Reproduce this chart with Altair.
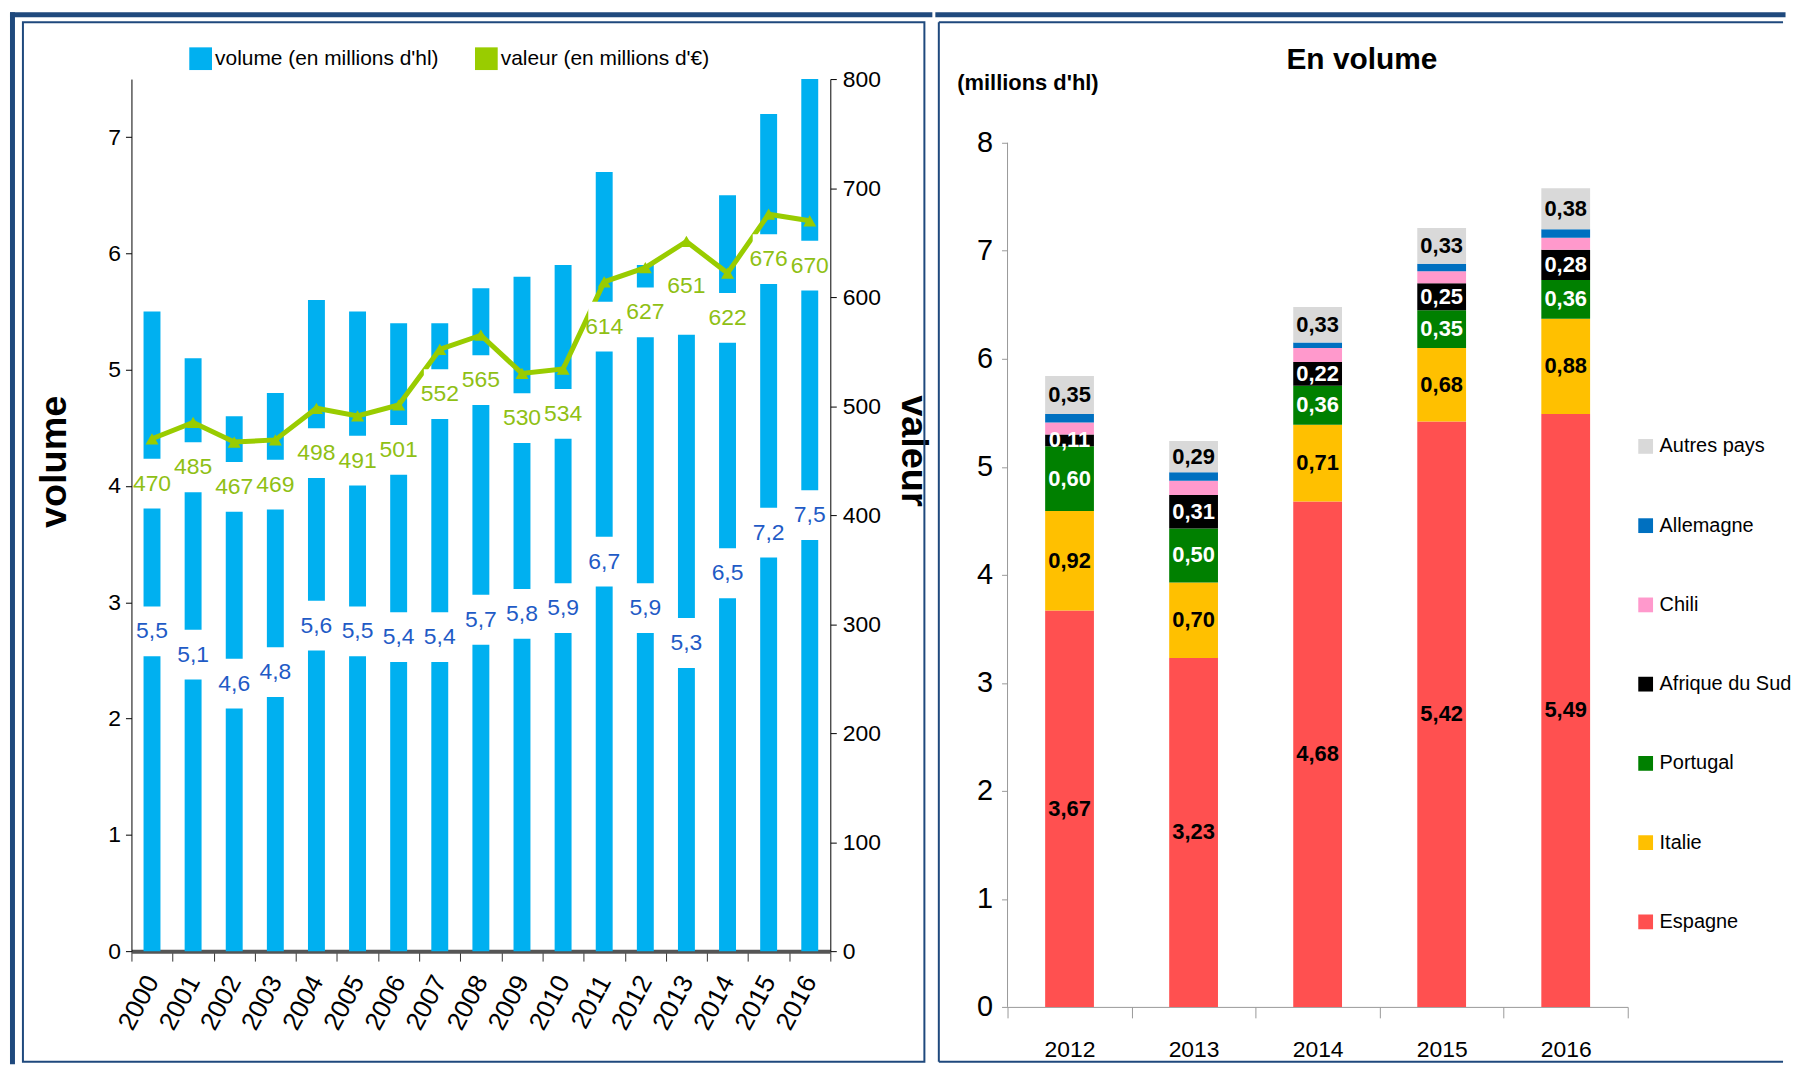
import altair as alt
import pandas as pd

# ---------------- data ----------------
annees = ["2000", "2001", "2002", "2003", "2004", "2005", "2006", "2007", "2008",
          "2009", "2010", "2011", "2012", "2013", "2014", "2015", "2016"]
volume = [5.5, 5.1, 4.6, 4.8, 5.6, 5.5, 5.4, 5.4, 5.7, 5.8, 5.9, 6.7, 5.9, 5.3, 6.5, 7.2, 7.5]
valeur = [470, 485, 467, 469, 498, 491, 501, 552, 565, 530, 534, 614, 627, 651, 622, 676, 670]

annees_pays = ["2012", "2013", "2014", "2015", "2016"]
pays = ["Espagne", "Italie", "Portugal", "Afrique du Sud", "Chili", "Allemagne", "Autres pays"]
espagne = [3.67, 3.23, 4.68, 5.42, 5.49]
italie = [0.92, 0.70, 0.71, 0.68, 0.88]
portugal = [0.60, 0.50, 0.36, 0.35, 0.36]
afrique_du_sud = [0.11, 0.31, 0.22, 0.25, 0.28]
chili = [0.11, 0.13, 0.13, 0.11, 0.11]
allemagne = [0.08, 0.08, 0.05, 0.07, 0.08]
autres_pays = [0.35, 0.29, 0.33, 0.33, 0.38]
pays_sans_etiquette = ["Chili", "Allemagne"]

legende_ordre = ["Autres pays", "Allemagne", "Chili", "Afrique du Sud", "Portugal", "Italie", "Espagne"]
legende_couleurs = ["#D9D9D9", "#0070C0", "#FF99CC", "#000000", "#008000", "#FFC000", "#FF5050"]

axe_droite = pd.DataFrame({"bas": [0], "haut": [8]})

NAME_VOL = "volume (en millions d'hl)"
NAME_VAL = "valeur (en millions d'€)"

# ---------------- style ----------------
FONT = "Liberation Sans"
NAVY = "#1F497D"
BLUE = "#00B0F0"
GREEN = "#99CC00"
GREEN_TXT = "#8FC014"
BLUE_TXT = "#1F5BC6"

TOP = 75                    # common page y of both plot tops
LW, LH = 702, 876           # left plot area
LOX = 130
R_ZERO_Y, R_EIGHT_Y = 1007, 139
RW = 623
RH = R_ZERO_Y - TOP
ROX = 1007
R_DOMAIN_TOP = 8 * RH / (R_ZERO_Y - R_EIGHT_Y)


def lx(p): return p - LOX
def ly(p): return p - TOP
def rx(p): return p - ROX
def ry(p): return p - TOP


one = pd.DataFrame({"k": [0]})


def rule_h(x1, x2, y, w, cap="butt"):
    return alt.Chart(one).mark_rule(color=NAVY, strokeWidth=w, strokeCap=cap).encode(
        x=alt.value(x1), x2=alt.value(x2), y=alt.value(y))


def rule_v(x, y1, y2, w, cap="butt"):
    return alt.Chart(one).mark_rule(color=NAVY, strokeWidth=w, strokeCap=cap).encode(
        x=alt.value(x), y=alt.value(y1), y2=alt.value(y2))


# ---------------- left chart ----------------
df_left = pd.DataFrame({"annee": annees, "volume": volume, "valeur": valeur})

HALF_BOX_PX = 25
VAL_LABEL_PX = 45
vb = HALF_BOX_PX * 7.5 / LH
vb2 = HALF_BOX_PX * 800 / LH
voff = VAL_LABEL_PX * 800 / LH

xL = alt.X("annee:N", sort=annees, scale=alt.Scale(paddingInner=0, paddingOuter=0),
           axis=alt.Axis(title=None, labelAngle=-62, labelFont=FONT, labelFontSize=26,
                         labelColor="#000", tickBand="extent", tickSize=10, tickColor="#333",
                         domainColor="#555", domainWidth=4, labelPadding=16, grid=False))

scaleV = alt.Scale(domain=[0, 7.5], nice=False, zero=True)
axisV = alt.Axis(orient="left", values=list(range(0, 8)), title="volume", titleAngle=-90,
                 titleX=lx(53), titleY=ly(459), titleFont=FONT, titleFontSize=38,
                 titleFontWeight="bold", titleAlign="center", titleBaseline="middle",
                 titleColor="#000", labelFont=FONT, labelFontSize=23, labelColor="#000",
                 tickSize=6, tickColor="#000", domainColor="#000", labelPadding=5, grid=False)

scaleVal = alt.Scale(domain=[0, 800], nice=False, zero=True)
axisVal = alt.Axis(orient="right", values=list(range(0, 801, 100)), title="valeur",
                   titleAngle=90, titleX=915 - (LOX + LW), titleY=ly(448), titleFont=FONT,
                   titleFontSize=38, titleFontWeight="bold", titleAlign="center",
                   titleBaseline="middle", titleColor="#000", labelFont=FONT,
                   labelFontSize=23, labelColor="#000", tickSize=6, tickColor="#000",
                   domainColor="#000", labelPadding=6, grid=False)

colorL_scale = alt.Scale(domain=[NAME_VOL, NAME_VAL], range=[BLUE, GREEN])
legendL = alt.Legend(title=None, orient="none", legendX=58, legendY=-32, direction="horizontal",
                     symbolType="square", symbolSize=520, symbolStrokeWidth=0,
                     labelFont=FONT, labelFontSize=21, labelColor="#000", labelLimit=0,
                     columnPadding=36, labelOffset=3, padding=0)

frame_left = [
    rule_v(lx(10.5), ly(10.5), ly(1062), 5, "square"),
    rule_h(lx(10.5), lx(932), ly(10.5), 5, "square"),
    alt.Chart(one).mark_rect(fill="transparent", stroke=NAVY, strokeWidth=2).encode(
        x=alt.value(lx(21)), x2=alt.value(lx(926.5)), y=alt.value(ly(18)), y2=alt.value(ly(1062))),
]

bars_l = alt.Chart(df_left).transform_calculate(
    serie=f'"{NAME_VOL}"'
).mark_bar(size=17).encode(
    x=xL, y=alt.Y("volume:Q", scale=scaleV, axis=axisV),
    color=alt.Color("serie:N", scale=colorL_scale, legend=legendL))

vol_box = alt.Chart(df_left).transform_calculate(
    b0=f"datum.volume/2 - {vb}", b1=f"datum.volume/2 + {vb}"
).mark_bar(size=30, color="white").encode(
    x=xL, y=alt.Y("b0:Q", scale=scaleV, axis=axisV), y2="b1:Q")

vol_txt = alt.Chart(df_left).transform_calculate(
    mid="datum.volume/2",
    lab="replace(format(datum.volume, '.1f'), '.', ',')"
).mark_text(font=FONT, fontSize=23, color=BLUE_TXT).encode(
    x=xL, y=alt.Y("mid:Q", scale=scaleV, axis=axisV), text="lab:N")

layer_vol = alt.layer(*frame_left, bars_l, vol_box, vol_txt)

line_l = alt.Chart(df_left).transform_calculate(
    serie=f'"{NAME_VAL}"'
).mark_line(strokeWidth=5).encode(
    x=xL, y=alt.Y("valeur:Q", scale=scaleVal, axis=axisVal),
    color=alt.Color("serie:N", scale=colorL_scale, legend=legendL))

pts_l = alt.Chart(df_left).mark_point(shape="triangle-up", filled=True, size=170,
                                       color=GREEN, opacity=1).encode(
    x=xL, y=alt.Y("valeur:Q", scale=scaleVal, axis=axisVal))

val_box = alt.Chart(df_left).transform_calculate(
    b0=f"datum.valeur - {voff} - {vb2}", b1=f"datum.valeur - {voff} + {vb2}"
).mark_bar(size=32, color="white").encode(
    x=xL, y=alt.Y("b0:Q", scale=scaleVal, axis=axisVal), y2="b1:Q")

val_txt = alt.Chart(df_left).transform_calculate(
    c=f"datum.valeur - {voff}"
).mark_text(font=FONT, fontSize=23, color=GREEN_TXT).encode(
    x=xL, y=alt.Y("c:Q", scale=scaleVal, axis=axisVal), text="valeur:Q")

layer_val = alt.layer(line_l, pts_l, val_box, val_txt)

left = alt.layer(layer_vol, layer_val).resolve_scale(y="independent").properties(
    width=LW, height=LH)

# ---------------- right chart ----------------
series = [espagne, italie, portugal, afrique_du_sud, chili, allemagne, autres_pays]
rows = []
for i, an in enumerate(annees_pays):
    cum = 0.0
    for p, s in zip(pays, series):
        v = s[i]
        rows.append({
            "annee": an, "pays": p, "v": v, "v0": cum, "v1": cum + v, "mid": cum + v / 2,
            "label": "" if p in pays_sans_etiquette else f"{v:.2f}".replace(".", ","),
            "tcol": "white" if p in ("Portugal", "Afrique du Sud") else "black",
        })
        cum += v
df_r = pd.DataFrame(rows)

xR = alt.X("annee:N", sort=annees_pays, scale=alt.Scale(paddingInner=0, paddingOuter=0),
           axis=alt.Axis(title=None, labelAngle=0, labelFont=FONT, labelFontSize=23,
                         labelColor="#000", tickBand="extent", tickSize=11, tickColor="#999",
                         domainColor="#999", labelPadding=21, grid=False))
scaleR = alt.Scale(domain=[0, R_DOMAIN_TOP], nice=False, zero=True)
axisR = alt.Axis(values=list(range(0, 9)), title="(millions d'hl)", titleAngle=0,
                 titleAlign="left", titleBaseline="middle", titleX=rx(956), titleY=ry(78),
                 titleFont=FONT, titleFontSize=22, titleFontWeight="bold", titleColor="#000",
                 labelFont=FONT, labelFontSize=29, labelColor="#000", tickSize=6,
                 tickColor="#999", domain=False, labelPadding=9, grid=False)

legendR = alt.Legend(title=None, orient="none", legendX=rx(1638), legendY=ry(434),
                     symbolType="square", symbolSize=220, symbolStrokeWidth=0,
                     labelFont=FONT, labelFontSize=20, labelColor="#000", labelLimit=0,
                     rowPadding=59.6, labelOffset=4, padding=0)

frame_right = [
    rule_h(rx(937), rx(1786), ry(10.5), 5, "square"),
    rule_v(rx(938), ry(18), ry(1062), 2),
    rule_h(rx(938), rx(1786), ry(18), 2),
    rule_h(rx(938), rx(1786), ry(1062), 2),
]

title_r = alt.Chart(one).mark_text(text="En volume", font=FONT, fontSize=30,
                                   fontWeight="bold", color="#000", align="center",
                                   baseline="middle").encode(
    x=alt.value(rx(1363)), y=alt.value(ry(56)))

axis_line_r = alt.Chart(axe_droite).mark_rule(color="#999", strokeWidth=1).encode(
    x=alt.value(0), y=alt.Y("bas:Q", scale=scaleR, axis=axisR), y2="haut:Q")

bars_r = alt.Chart(df_r).mark_bar(size=49).encode(
    x=xR, y=alt.Y("v1:Q", scale=scaleR, axis=axisR), y2="v0:Q",
    color=alt.Color("pays:N", scale=alt.Scale(domain=legende_ordre, range=legende_couleurs),
                    legend=legendR))

text_r = alt.Chart(df_r).transform_filter("datum.label != ''").mark_text(
    font=FONT, fontSize=22, fontWeight="bold").encode(
    x=xR, y=alt.Y("mid:Q", scale=scaleR, axis=axisR), text="label:N",
    color=alt.Color("tcol:N", scale=None))

right = alt.layer(*frame_right, title_r, axis_line_r, bars_r, text_r).properties(
    width=RW, height=RH)

chart = alt.hconcat(left, right, spacing=0).resolve_scale(color="independent").configure_view(
    strokeWidth=0).properties(padding=0)

chart.save("out.html", embed_options={"renderer": "svg", "actions": False})
